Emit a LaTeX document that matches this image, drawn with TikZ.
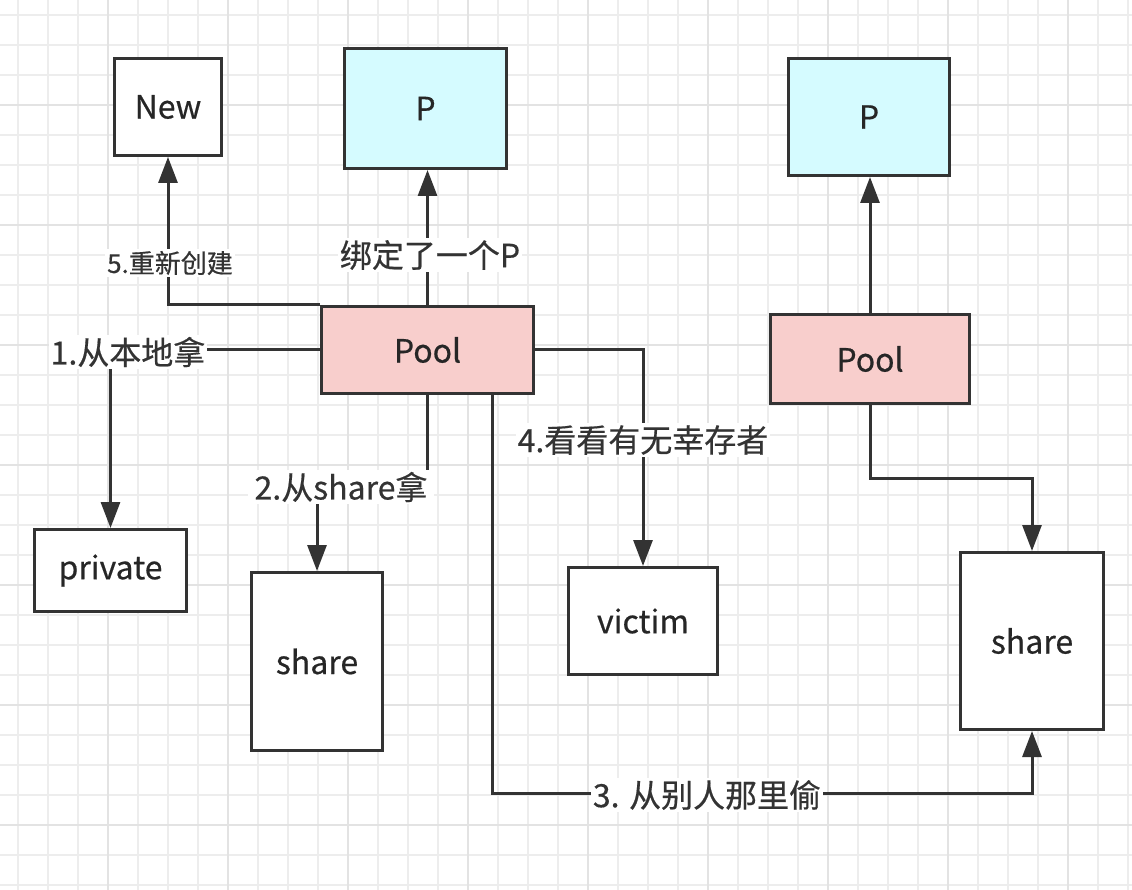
\documentclass[tikz,border=0pt]{standalone}
\usepackage{fontspec}
\newfontfamily\cjk[FakeBold=0.5]{Noto Sans CJK SC}
\usetikzlibrary{arrows.meta}
\definecolor{ink}{HTML}{333333}
\definecolor{pfill}{HTML}{D5FBFF}
\definecolor{poolfill}{HTML}{F8CECC}
\begin{document}
\begin{tikzpicture}[
      x=1pt, y=-1pt,
      font=\cjk\fontsize{32}{38}\selectfont, text=black!85,
      box/.style={draw=ink, line width=3pt, fill=white, inner sep=0pt, align=center},
      flow/.style={draw=ink, line width=3pt, -{Triangle[length=26pt,width=19pt]}},
      lbl/.style={fill=white, inner sep=2pt, text=ink},
      small/.style={font=\cjk\fontsize{26}{31}\selectfont},
      minorline/.style={draw=black!7, line width=1.2pt},
      majorline/.style={draw=black!11, line width=1.2pt}
    ]
    \useasboundingbox[fill=white] (0,0) rectangle (1132,890);

    % --- Background grid ------------------------------------------------------
    \foreach \x in {18,48,...,1128} \draw[minorline] (\x,0) -- (\x,890);
    \foreach \y in {15,45,...,885} \draw[minorline] (0,\y) -- (1132,\y);
    \foreach \x in {108,228,...,1068} \draw[majorline] (\x,0) -- (\x,890);
    \foreach \y in {105,225,...,825} \draw[majorline] (0,\y) -- (1132,\y);

    % --- Left group -----------------------------------------------------------
    \node[box, minimum width=107pt, minimum height=97pt] (new) at (168,107) {New};
    \node[box, fill=pfill, minimum width=162pt, minimum height=120pt] (pa) at (425.5,108.5) {P};
    \node[box, fill=poolfill, minimum width=212pt, minimum height=87pt] (poola) at (427.5,350) {Pool};
    \node[box, minimum width=152pt, minimum height=82pt] (private) at (110.5,570.5) {private};
    \node[box, minimum width=131pt, minimum height=178pt] (sharea) at (317,661.5) {share};
    \node[box, minimum width=149pt, minimum height=107pt] (victim) at (643,621) {victim};

    % --- Right group ----------------------------------------------------------
    \node[box, fill=pfill, minimum width=161pt, minimum height=117pt] (pb) at (869,117) {P};
    \node[box, fill=poolfill, minimum width=199pt, minimum height=89pt] (poolb) at (870,359) {Pool};
    \node[box, minimum width=143pt, minimum height=177pt] (shareb) at (1032,641) {share};

    % --- Connectors -----------------------------------------------------------
    \draw[flow] (poola.north west) -| (new.south);
    \draw[flow] (poola.north) -- (poola.north |- pa.south);
    \draw[flow] (poola.west) -| (private.north);
    \draw[flow] (poola.south) -- ++(0,92) -| (sharea.north);
    \draw[flow] (poola.east) -| (victim.north);
    \draw[flow] ([xshift=65pt]poola.south) -- ++(0,398) -| (shareb.south);
    \draw[flow] (poolb.north) -- (poolb.north |- pb.south);
    \draw[flow] (poolb.south) -- ++(0,73) -| (shareb.north);

    % --- Labels ---------------------------------------------------------------
    \node[lbl, small] (l5) at (170,263) {5.重新创建};
    \node[lbl] (lp) at (430,255) {绑定了一个P};
    \node[lbl] (l1) at (128,352) {1.从本地拿};
    \node[lbl, inner xsep=7pt] (l2) at (341,487) {2.从share拿};
    \node[lbl] (l4) at (643,440) {4.看看有无幸存者};
    \node[lbl] (l3) at (707,795) {3. 从别人那里偷};
  \end{tikzpicture}
\end{document}
